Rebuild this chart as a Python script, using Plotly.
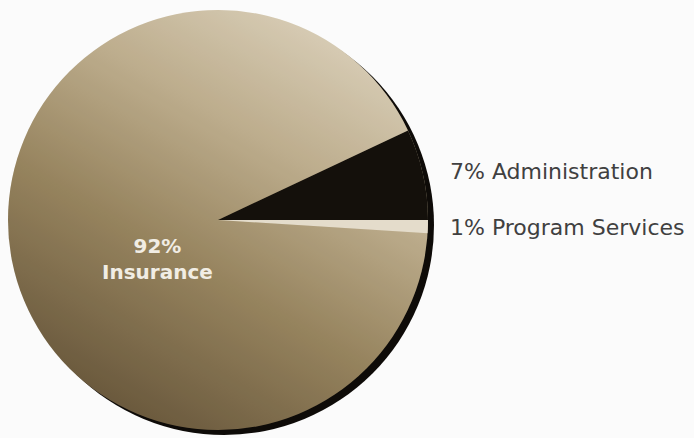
import base64
import plotly.graph_objects as go

# Share of spending by category (percent)
categories = ["Program Services", "Administration", "Insurance"]
shares = [1, 7, 92]
slice_colors = ["#e4dccb", "#14100b", "rgba(150,132,100,0.12)"]

W, H = 694, 438
CX, CY, R = 218, 220, 210          # pie centre and radius in pixels
SHADOW_DX, SHADOW_DY = 6, 5


def disk_svg(fill_defs, fill):
    svg = (
        '<svg xmlns="http://www.w3.org/2000/svg" viewBox="0 0 100 100" '
        'preserveAspectRatio="none">' + fill_defs +
        f'<circle cx="50" cy="50" r="50" fill="{fill}"/></svg>'
    )
    return "data:image/svg+xml;base64," + base64.b64encode(svg.encode()).decode()


gradient_defs = (
    '<defs><linearGradient id="g" x1="0.8" y1="0.05" x2="0.25" y2="1">'
    '<stop offset="0" stop-color="#e3d9c4"/>'
    '<stop offset="0.3" stop-color="#c2b292"/>'
    '<stop offset="0.6" stop-color="#97845e"/>'
    '<stop offset="1" stop-color="#5e4d33"/>'
    '</linearGradient></defs>'
)


def box(cx, cy, r):
    return dict(x=(cx - r) / W, y=1 - (cy - r) / H, sizex=2 * r / W, sizey=2 * r / H)


fig = go.Figure()
fig.add_trace(go.Pie(
    labels=categories,
    values=shares,
    sort=False,
    direction="counterclockwise",
    rotation=90,
    marker=dict(colors=slice_colors, line=dict(width=0)),
    textinfo="none",
    hoverinfo="label+percent",
    showlegend=False,
    domain=dict(x=[(CX - R) / W, (CX + R) / W], y=[1 - (CY + R) / H, 1 - (CY - R) / H]),
))

images = []
# drop shadow disk, then shaded disk under the pie
for src, (cx, cy) in [
    (disk_svg("", "#0e0b08"), (CX + SHADOW_DX, CY + SHADOW_DY)),
    (disk_svg(gradient_defs, "url(#g)"), (CX, CY)),
]:
    images.append(dict(source=src, xref="paper", yref="paper", xanchor="left",
                       yanchor="top", sizing="stretch", layer="below", **box(cx, cy, R)))

label_font = dict(family="DejaVu Sans", size=22, color="#404040")
annotations = [
    dict(text=f"{shares[1]}% {categories[1]}", x=448 / W, y=1 - 171 / H,
         xanchor="left", yanchor="middle", font=label_font),
    dict(text=f"{shares[0]}% {categories[0]}", x=448 / W, y=1 - 227 / H,
         xanchor="left", yanchor="middle", font=label_font),
    dict(text=f"<b>{shares[2]}%<br>{categories[2]}</b>", x=157 / W, y=1 - 259 / H,
         xanchor="center", yanchor="middle", align="center",
         font=dict(family="DejaVu Sans", size=20, color="#f1ede4")),
]
for a in annotations:
    a.update(xref="paper", yref="paper", showarrow=False)

fig.update_layout(
    width=W, height=H,
    margin=dict(l=0, r=0, t=0, b=0),
    paper_bgcolor="#fbfbfb",
    plot_bgcolor="#fbfbfb",
    images=images,
    annotations=annotations,
)

fig.write_html("out.html")
